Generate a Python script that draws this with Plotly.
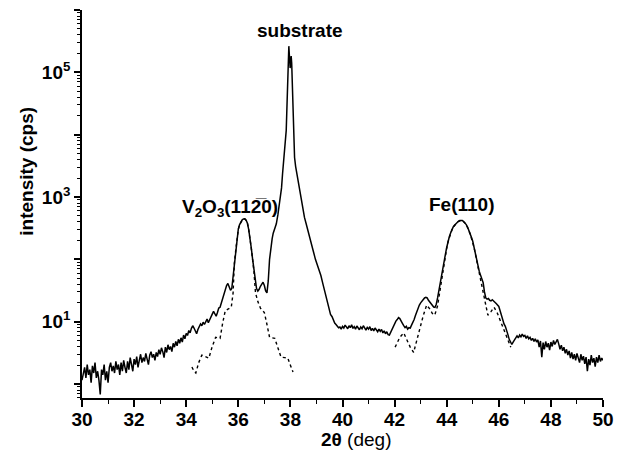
import plotly.graph_objects as go

# ---------------- data ----------------
# solid line: measured scan, split in segments
seg_a_x = [30.00, 30.05, 30.10, 30.15, 30.20, 30.25, 30.30, 30.35, 30.40, 30.45,
           30.50, 30.55, 30.60, 30.65, 30.70, 30.75, 30.80, 30.85, 30.90, 30.95,
           31.00, 31.05, 31.10, 31.15, 31.20, 31.25, 31.30, 31.35, 31.40, 31.45,
           31.50, 31.55, 31.60, 31.65, 31.70, 31.75, 31.80, 31.85, 31.90, 31.95,
           32.00, 32.05, 32.10, 32.15, 32.20, 32.25, 32.30, 32.35, 32.40, 32.45,
           32.50, 32.55, 32.60, 32.65, 32.70, 32.75, 32.80, 32.85, 32.90, 32.95,
           33.00, 33.05, 33.10, 33.15, 33.20, 33.25, 33.30, 33.35, 33.40, 33.45,
           33.50, 33.55, 33.60, 33.65, 33.70, 33.75, 33.80, 33.85, 33.90, 33.95,
           34.00]
seg_a_y = [1.15, 1.5, 1.85, 1.25, 2.05, 1.4, 1.7, 1.05, 1.95, 1.5,
           2.2, 1.25, 1.6, 1.15, 0.68, 1.7, 1.4, 2.05, 1.15, 1.6,
           1.05, 1.85, 2.2, 1.6, 1.95, 1.5, 2.3, 1.7, 2.05, 1.4,
           2.2, 1.6, 2.4, 1.85, 1.5, 2.3, 1.7, 2.65, 1.95, 1.6,
           2.5, 2.05, 2.75, 1.85, 2.4, 3.0, 2.2, 2.65, 2.3, 3.1,
           2.5, 2.05, 2.9, 3.3, 2.65, 3.0, 2.4, 3.2, 2.75, 3.55,
           3.0, 3.8, 3.3, 2.65, 3.9, 3.2, 4.25, 3.55, 4.0, 3.3,
           4.5, 3.9, 4.8, 4.1, 5.2, 4.5, 5.5, 4.7, 6.1, 5.3,
           6.5]

seg_b_x = [34.05, 34.10, 34.15, 34.20, 34.25, 34.30, 34.35, 34.40, 34.45, 34.50,
           34.55, 34.60, 34.65, 34.70, 34.75, 34.80, 34.85, 34.90, 34.95, 35.00,
           35.05, 35.10, 35.15, 35.20, 35.25, 35.30, 35.35, 35.40, 35.45, 35.50,
           35.55, 35.60, 35.65, 35.70, 35.75]
seg_b_y = [6.0, 7.2, 6.6, 7.8, 8.6, 7.9, 6.8, 6.4, 7.5, 8.3,
           9.2, 8.6, 9.8, 9.0, 10.2, 11.0, 9.6, 10.8, 12.5, 13.2,
           14.6, 13.0, 12.2, 14.0, 16.5, 17.0, 20.0, 24.0, 29.0, 35.0,
           38.0, 41.0, 35.0, 32.0, 34.0]

seg_v2o3_x = [35.80, 35.85, 35.90, 35.95, 36.00, 36.05, 36.10, 36.15, 36.20, 36.25,
              36.30, 36.35, 36.40, 36.45, 36.50, 36.55, 36.60, 36.65, 36.70, 36.75,
              36.80, 36.85, 36.90, 36.95, 37.00, 37.05, 37.10, 37.15]
seg_v2o3_y = [55, 90, 140, 220, 305, 360, 400, 430, 445, 447,
              425, 380, 300, 225, 150, 100, 66, 42, 34, 31,
              33, 37, 41, 43, 38, 31, 29, 45]

seg_sub_x = [37.20, 37.25, 37.30, 37.34, 37.40, 37.46, 37.52, 37.58, 37.62, 37.66,
             37.70, 37.73, 37.76, 37.80, 37.84, 37.86, 37.88, 37.90, 37.92, 37.94,
             37.96, 37.98, 37.99, 38.01, 38.03, 38.05, 38.07, 38.09, 38.11, 38.13,
             38.16, 38.20, 38.25, 38.30, 38.35, 38.40, 38.45, 38.50, 38.54, 38.60,
             38.67, 38.74, 38.80, 38.88, 38.96, 39.04, 39.11, 39.17, 39.25, 39.32,
             39.40, 39.47, 39.54, 39.60, 39.65, 39.70, 39.75, 39.80, 39.85]
seg_sub_y = [100, 155, 215, 263, 320, 372, 520, 780, 1050, 1400,
             2400, 3500, 4900, 7500, 11700, 22000, 50000, 110000, 200000, 263000,
             190000, 130000, 117000, 150000, 182000, 140000, 74000, 30000, 11700, 6500,
             4300, 3100, 2300, 1700, 1260, 1000, 780, 590, 470, 380,
             300, 230, 182, 135, 100, 80, 66, 55, 40, 30,
             21, 16, 13, 12, 10.5, 9.5, 9.0, 8.6, 8.0]

seg_c_x = [39.90, 39.95, 40.00, 40.05, 40.10, 40.15, 40.20, 40.25, 40.30, 40.35,
           40.40, 40.45, 40.50, 40.55, 40.60, 40.65, 40.70, 40.75, 40.80, 40.85,
           40.90, 40.95, 41.00, 41.05, 41.10, 41.15, 41.20, 41.25, 41.30, 41.35,
           41.40, 41.45, 41.50, 41.55, 41.60, 41.65, 41.70, 41.75]
seg_c_y = [8.2, 7.6, 8.4, 7.9, 8.8, 8.1, 7.7, 8.6, 8.0, 8.9,
           7.8, 8.3, 7.6, 8.5, 8.0, 7.4, 8.2, 7.7, 8.6, 7.9,
           7.3, 8.1, 7.6, 8.3, 7.2, 7.8, 7.1, 7.9, 7.4, 6.9,
           7.6, 7.0, 7.5, 6.6, 7.1, 6.4, 6.9, 6.2]

seg_fe_x = [41.80, 41.85, 41.90, 41.95, 42.00, 42.05, 42.10, 42.15, 42.20, 42.25,
            42.30, 42.35, 42.40, 42.45, 42.50, 42.55, 42.60, 42.65, 42.70, 42.75,
            42.80, 42.85, 42.90, 42.95, 43.00, 43.05, 43.10, 43.15, 43.20, 43.25,
            43.30, 43.35, 43.40, 43.45, 43.50, 43.55, 43.60, 43.65, 43.70, 43.75,
            43.80, 43.85, 43.90, 43.95, 44.00, 44.05, 44.10, 44.15, 44.20, 44.25,
            44.30, 44.35, 44.40, 44.45, 44.50, 44.55, 44.60, 44.65, 44.70, 44.75,
            44.80, 44.85, 44.90, 44.95, 45.00, 45.05, 45.10, 45.15, 45.20, 45.25,
            45.30, 45.35, 45.40, 45.45, 45.50, 45.55, 45.60, 45.65, 45.70, 45.75,
            45.80, 45.85, 45.90, 45.95, 46.00, 46.05, 46.10, 46.15, 46.20, 46.25,
            46.30, 46.35, 46.40, 46.45, 46.50]
seg_fe_y = [6.1, 6.8, 7.6, 8.4, 9.0, 10.2, 10.8, 11.6, 11.2, 10.0,
            9.4, 8.6, 8.0, 8.4, 7.6, 8.0, 7.9, 8.8, 9.6, 10.8,
            12.5, 14.5, 16.5, 18.5, 20.0, 21.5, 23.0, 24.0, 24.5, 24.0,
            22.0, 20.5, 19.0, 18.0, 17.2, 17.0, 19.0, 24.0, 32.0, 44.0,
            57.0, 70.0, 92.0, 120.0, 155.0, 195.0, 230.0, 265.0, 300.0, 330.0,
            352.0, 372.0, 392.0, 408.0, 418.0, 422.0, 418.0, 405.0, 385.0, 360.0,
            330.0, 295.0, 258.0, 225.0, 195.0, 160.0, 128.0, 100.0, 80.0, 64.0,
            54.0, 48.0, 42.0, 30.0, 24.0, 23.0, 23.5, 22.0, 21.5, 22.5,
            21.0, 20.5, 19.5, 18.5, 17.5, 15.0, 12.5, 10.8, 9.2, 8.4,
            7.4, 6.2, 5.2, 4.6, 4.3]

seg_e_x = [46.55, 46.60, 46.65, 46.70, 46.75, 46.80, 46.85, 46.90, 46.95, 47.00,
           47.05, 47.10, 47.15, 47.20, 47.25, 47.30, 47.35, 47.40, 47.45, 47.50,
           47.55, 47.60, 47.65, 47.70, 47.75, 47.80, 47.85, 47.90, 47.95, 48.00,
           48.05, 48.10, 48.15, 48.20, 48.25, 48.30, 48.35, 48.40, 48.45, 48.50,
           48.55, 48.60, 48.65, 48.70, 48.75, 48.80, 48.85, 48.90, 48.95, 49.00,
           49.05, 49.10, 49.15, 49.20, 49.25, 49.30, 49.35, 49.40, 49.45, 49.50,
           49.55, 49.60, 49.65, 49.70, 49.75, 49.80, 49.85, 49.90, 49.95, 50.00]
seg_e_y = [4.7, 5.0, 5.4, 5.9, 5.5, 6.1, 5.7, 6.3, 5.8, 6.0,
           5.4, 5.9, 5.3, 5.6, 5.0, 5.4, 4.8, 5.3, 4.7, 5.1,
           3.9, 4.9, 2.7, 4.6, 3.6, 4.8, 3.9, 4.5, 3.5, 4.7,
           4.0, 5.0, 4.3, 4.8, 5.2, 4.4, 3.6, 4.2, 3.4, 3.9,
           3.1, 3.6, 2.9, 3.4, 2.6, 3.2, 2.5, 3.0, 2.4, 3.1,
           2.6, 2.2, 3.0, 2.4, 2.8, 2.1, 2.7, 1.6, 2.5, 2.0,
           2.9, 2.2, 2.6, 1.9, 2.7, 2.2, 2.9, 2.3, 2.6, 2.4]

# dotted lines: fitted V2O3 and Fe contributions
dot_v2o3_x = [34.22, 34.30, 34.37, 34.48, 34.60, 34.75, 34.87, 35.00, 35.13, 35.22,
              35.30, 35.40, 35.50, 35.62, 35.73, 35.80, 35.85, 35.90, 35.95, 36.00,
              36.05, 36.10, 36.15, 36.20, 36.25, 36.30, 36.35, 36.40, 36.45, 36.50,
              36.55, 36.60, 36.66, 36.75, 36.85, 36.93, 37.00, 37.10, 37.20, 37.30,
              37.40, 37.52, 37.64, 37.78, 37.90, 38.00, 38.10]
dot_v2o3_y = [1.87, 1.6, 1.5, 2.2, 2.9, 2.7, 2.6, 4.0, 5.6, 5.5,
              5.4, 9.5, 15.0, 16.0, 17.0, 29.0, 88, 138, 218, 303,
              358, 398, 428, 443, 445, 423, 378, 298, 222, 148,
              98, 64, 29, 21, 16.5, 15, 14, 9, 5.6, 5.5,
              5.4, 3.8, 2.7, 2.65, 2.6, 2.0, 1.56]

dot_fe_x = [42.02, 42.10, 42.20, 42.35, 42.45, 42.60, 42.73, 42.85, 42.98, 43.10,
            43.23, 43.35, 43.45, 43.54, 43.65, 43.75, 43.80, 43.85, 43.90, 43.95,
            44.00, 44.05, 44.10, 44.15, 44.20, 44.25, 44.30, 44.35, 44.40, 44.45,
            44.50, 44.55, 44.60, 44.65, 44.70, 44.75, 44.80, 44.85, 44.90, 44.95,
            45.00, 45.05, 45.10, 45.15, 45.20, 45.25, 45.30, 45.35, 45.40, 45.48,
            45.58, 45.70, 45.82, 45.95, 46.05, 46.15, 46.30, 46.46]
dot_fe_y = [3.9, 4.5, 5.6, 6.6, 5.2, 3.9, 3.2, 5.0, 8.2, 12.5,
            18.4, 16.0, 13.5, 12.7, 18.0, 33.0, 50.0, 65.0, 88.0, 115,
            150, 190, 225, 262, 297, 327, 350, 370, 390, 406,
            416, 420, 416, 403, 383, 357, 327, 292, 255, 221,
            190, 155, 122, 95, 74, 58, 46, 38, 31, 21,
            12.7, 14.5, 17.0, 13.5, 10.5, 8.2, 5.5, 3.9]

x_tick_vals = [30, 32, 34, 36, 38, 40, 42, 44, 46, 48, 50]
y_major_vals = [1, 10, 100, 1000, 10000, 100000, 1000000]
y_major_text = ["", "10<sup>1</sup>", "", "10<sup>3</sup>", "", "10<sup>5</sup>", ""]

# ---------------- figure ----------------
solid_x = seg_a_x + seg_b_x + seg_v2o3_x + seg_sub_x + seg_c_x + seg_fe_x + seg_e_x
solid_y = seg_a_y + seg_b_y + seg_v2o3_y + seg_sub_y + seg_c_y + seg_fe_y + seg_e_y

FONT = "Liberation Sans, Arial, sans-serif"

fig = go.Figure()
fig.add_trace(go.Scatter(x=dot_v2o3_x, y=dot_v2o3_y, mode="lines",
                         line=dict(color="black", width=1.4, dash="dot"),
                         showlegend=False))
fig.add_trace(go.Scatter(x=dot_fe_x, y=dot_fe_y, mode="lines",
                         line=dict(color="black", width=1.4, dash="dot"),
                         showlegend=False))
fig.add_trace(go.Scatter(x=solid_x, y=solid_y, mode="lines",
                         line=dict(color="black", width=1.5),
                         showlegend=False))

minor_y = []
for dec in [0.1, 1, 10, 100, 1000, 10000, 100000]:
    for m in range(2, 10):
        minor_y.append(m * dec)

fig.update_layout(
    width=624, height=458,
    margin=dict(l=82, r=16, t=10, b=60),
    paper_bgcolor="white", plot_bgcolor="white",
    font=dict(family=FONT, size=19, color="black"),
    xaxis=dict(range=[30, 50], showgrid=False, zeroline=False,
               showline=True, linecolor="black", linewidth=1.6,
               ticks="outside", ticklen=7, tickwidth=1.6, tickcolor="black",
               tickvals=x_tick_vals, ticklabelstandoff=-4,
               tickfont=dict(family=FONT, size=19, color="black", weight="bold"),
               minor=dict(ticks="outside", ticklen=4, tickwidth=1.4,
                          tickcolor="black", dtick=1, showgrid=False)),
    yaxis=dict(type="log", range=[-0.225, 6.0], showgrid=False, zeroline=False,
               showline=True, linecolor="black", linewidth=1.6,
               ticks="outside", ticklen=6, tickwidth=1.6, tickcolor="black",
               tickvals=y_major_vals, ticktext=y_major_text,
               tickfont=dict(family=FONT, size=19, color="black", weight="bold"),
               minor=dict(ticks="outside", ticklen=3, tickwidth=1.2,
                          tickcolor="black", tickvals=minor_y, showgrid=False)),
)

ann_font = dict(family=FONT, size=19, color="black", weight="bold")
fig.add_annotation(x=38.37, y=0.948, xref="x", yref="paper", text="substrate",
                   showarrow=False, font=ann_font, xanchor="center", yanchor="middle")
fig.add_annotation(x=35.70, y=0.49, xref="x", yref="paper",
                   text="V<sub>2</sub>O<sub>3</sub>(11\u0032\u03050)",
                   showarrow=False, font=ann_font, xanchor="center", yanchor="middle")
fig.add_annotation(x=44.58, y=0.50, xref="x", yref="paper", text="Fe(110)",
                   showarrow=False, font=ann_font, xanchor="center", yanchor="middle")
fig.add_annotation(x=-0.108, y=0.585, xref="paper", yref="paper",
                   text="intensity (cps)", textangle=-90, showarrow=False,
                   font=ann_font, xanchor="center", yanchor="middle")
fig.add_annotation(x=0.525, y=-0.108, xref="paper", yref="paper",
                   text="<b>2\u03b8</b> (deg)", showarrow=False,
                   font=dict(family=FONT, size=19, color="black"),
                   xanchor="center", yanchor="middle")

fig.write_html("out.html")
